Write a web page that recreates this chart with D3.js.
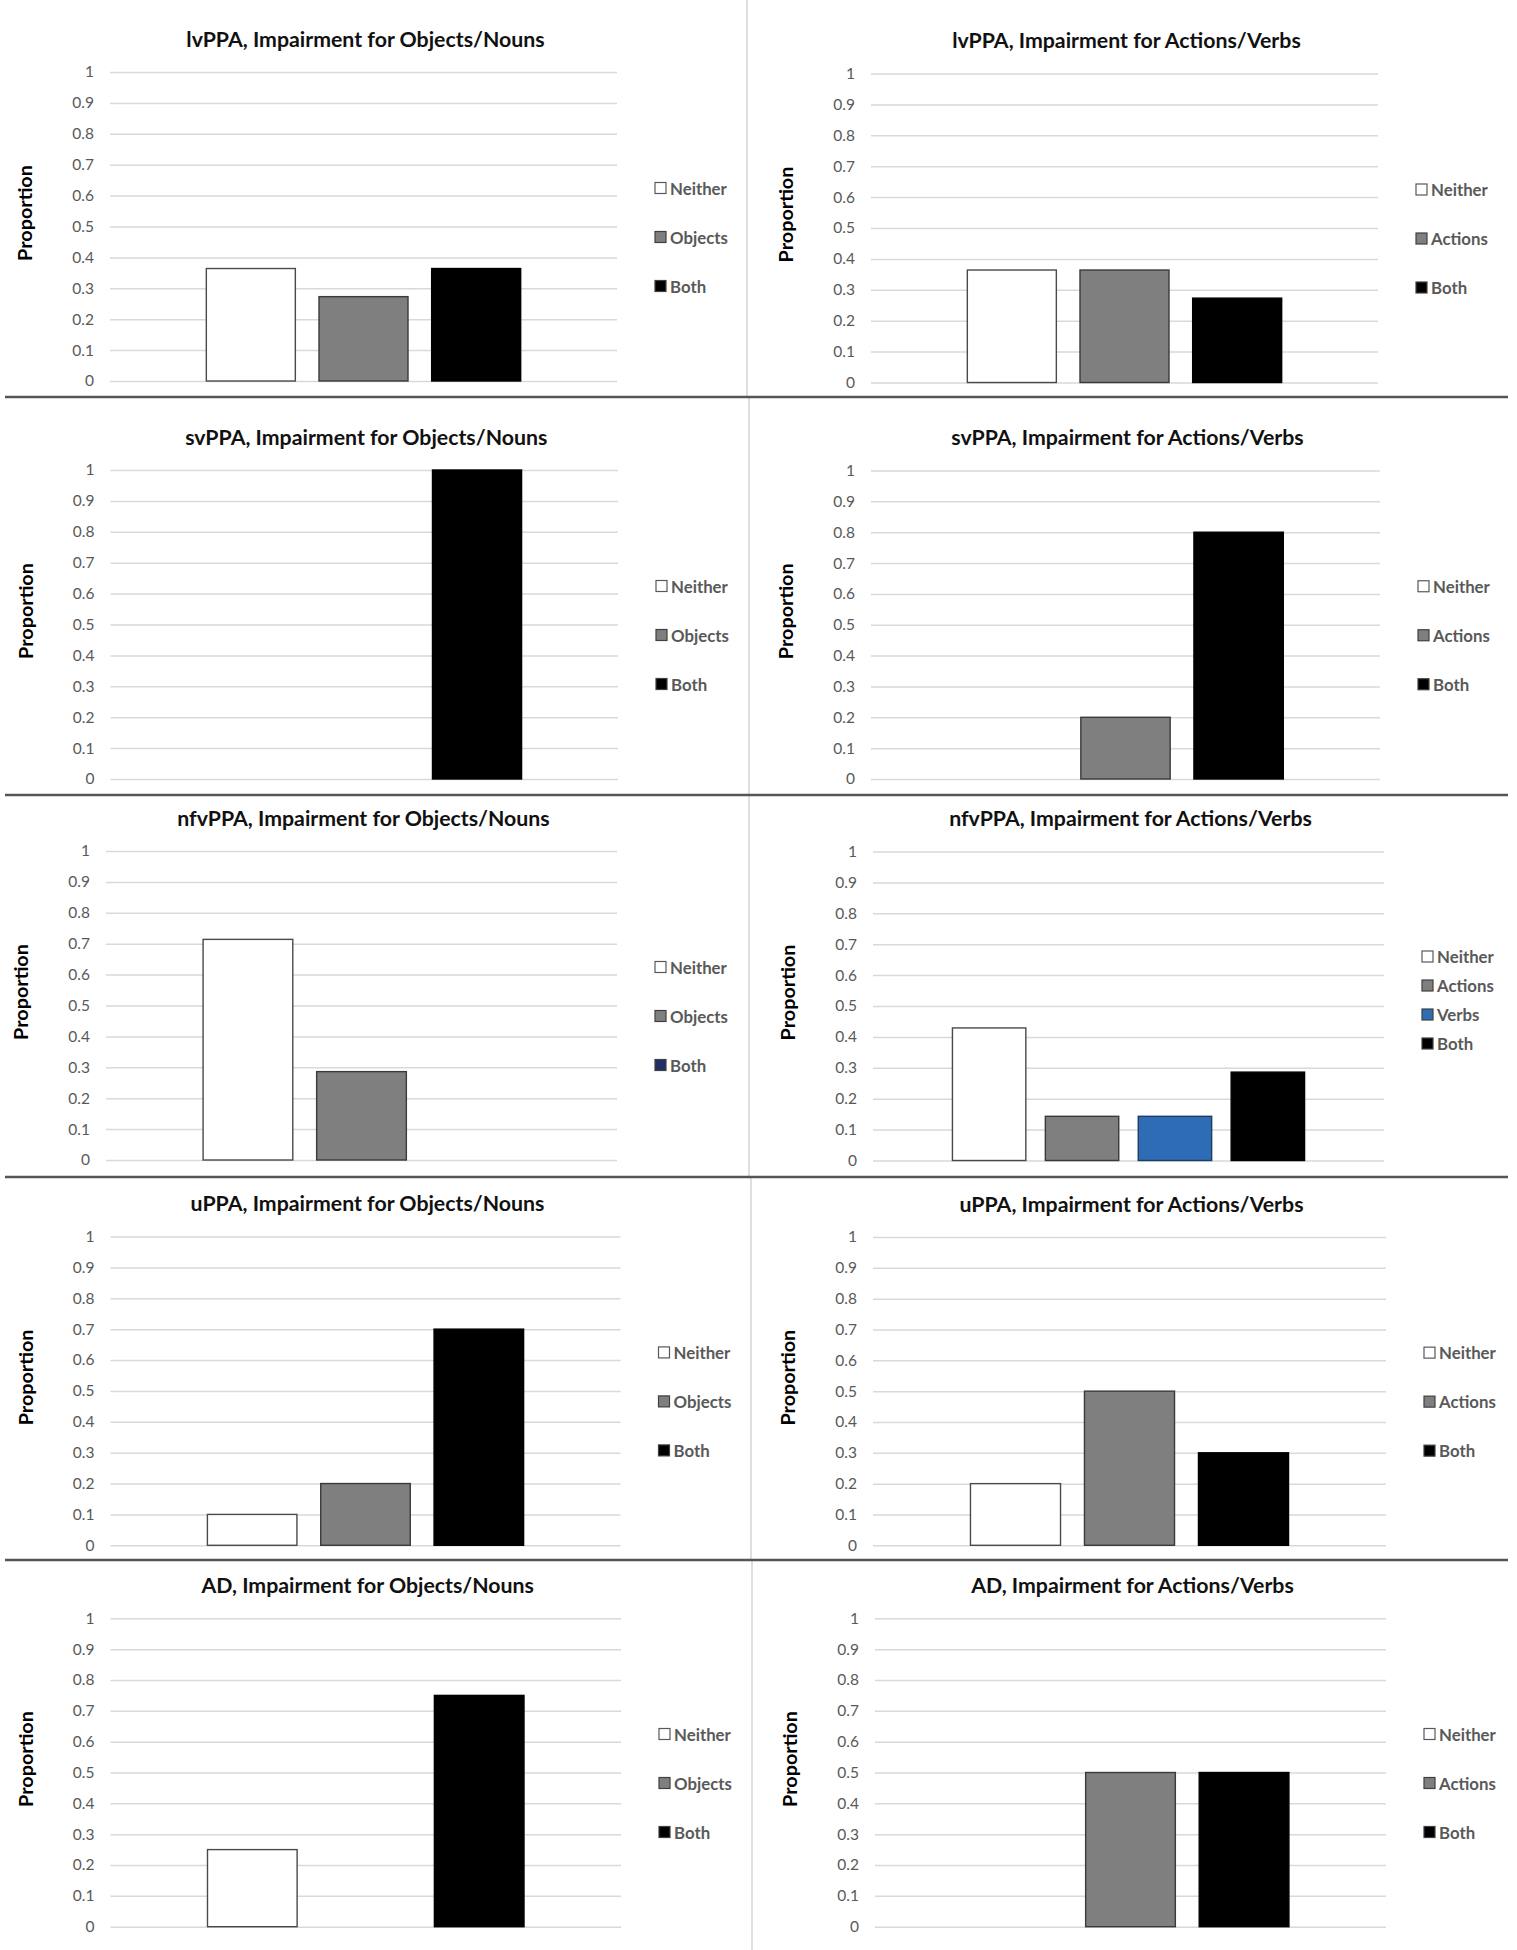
<!DOCTYPE html>
<html>
<head>
<meta charset="utf-8">
<script src="https://cdn.jsdelivr.net/npm/d3@7"></script>
<style>
  html, body { margin: 0; padding: 0; background: #fff; }
  svg { display: block; }
  text { font-family: Lato, "Open Sans", sans-serif; }
</style>
</head>
<body>
<svg id="chart" width="1517" height="1950"></svg>
<script>
// ---------------- DATA ----------------
const titles = [
  "lvPPA, Impairment for Objects/Nouns",
  "lvPPA, Impairment for Actions/Verbs",
  "svPPA, Impairment for Objects/Nouns",
  "svPPA, Impairment for Actions/Verbs",
  "nfvPPA, Impairment for Objects/Nouns",
  "nfvPPA, Impairment for Actions/Verbs",
  "uPPA, Impairment for Objects/Nouns",
  "uPPA, Impairment for Actions/Verbs",
  "AD, Impairment for Objects/Nouns",
  "AD, Impairment for Actions/Verbs"
];
const seriesObjects = ["Neither", "Objects", "Both"];
const seriesActions = ["Neither", "Actions", "Both"];
const seriesActionsVerbs = ["Neither", "Actions", "Verbs", "Both"];
const panelSeries = [
  seriesObjects, seriesActions,
  seriesObjects, seriesActions,
  seriesObjects, seriesActionsVerbs,
  seriesObjects, seriesActions,
  seriesObjects, seriesActions
];
const lvppaObjects  = [0.364, 0.273, 0.364];
const lvppaActions  = [0.364, 0.364, 0.273];
const svppaObjects  = [0, 0, 1.0];
const svppaActions  = [0, 0.2, 0.8];
const nfvppaObjects = [0.714, 0.286, 0];
const nfvppaActions = [0.429, 0.143, 0.143, 0.286];
const uppaObjects   = [0.1, 0.2, 0.7];
const uppaActions   = [0.2, 0.5, 0.3];
const adObjects     = [0.25, 0, 0.75];
const adActions     = [0, 0.5, 0.5];
const panelValues = [
  lvppaObjects, lvppaActions,
  svppaObjects, svppaActions,
  nfvppaObjects, nfvppaActions,
  uppaObjects, uppaActions,
  adObjects, adActions
];
const yTickValues = [0, 0.1, 0.2, 0.3, 0.4, 0.5, 0.6, 0.7, 0.8, 0.9, 1];
const yTickLabels = ["0", "0.1", "0.2", "0.3", "0.4", "0.5", "0.6", "0.7", "0.8", "0.9", "1"];
const yAxisTitle = "Proportion";

// ---------------- STYLE / LAYOUT ----------------
const seriesFill = { Neither: "#ffffff", Objects: "#7f7f7f", Actions: "#7f7f7f", Verbs: "#2e6db5", Both: "#000000" };
const seriesStroke = { Neither: "#4a4a4a", Objects: "#3a3a3a", Actions: "#3a3a3a", Verbs: "#1f3c63", Both: "#000000" };
// nfvPPA Objects legend shows 'Both' in dark navy
const legendOverride = { 4: { Both: "#1f2f63" } };

// plot-area frames [left, right, top(y=1), bottom(y=0)]
const frames = [
  [110, 617, 72, 381],   [871, 1378, 73.5, 382.5],
  [110.5, 618, 470, 779], [871, 1380, 470.5, 779],
  [106, 617, 851, 1160],  [873, 1384, 851.5, 1160.5],
  [110.5, 620.5, 1236.5, 1545.3], [873, 1386, 1237, 1545.3],
  [110.5, 621, 1618.3, 1926.7],   [875, 1386, 1618.3, 1926.7]
];
const hSeparators = [397, 795, 1177, 1560];
const vDividers = [[0, 397, 747], [397, 795, 749], [795, 1177, 749], [1177, 1560, 751], [1560, 1950, 752]];

const svg = d3.select("#chart");
svg.append("rect").attr("width", 1517).attr("height", 1950).attr("fill", "#fff");

// vertical dividers
svg.append("g").selectAll("line").data(vDividers).join("line")
  .attr("x1", d => d[2]).attr("x2", d => d[2])
  .attr("y1", d => d[0]).attr("y2", d => d[1])
  .attr("stroke", "#d4d4d4").attr("stroke-width", 1.5);

// horizontal separators
svg.append("g").selectAll("line").data(hSeparators).join("line")
  .attr("x1", 5).attr("x2", 1508)
  .attr("y1", d => d).attr("y2", d => d)
  .attr("stroke", "#555").attr("stroke-width", 2.5);

titles.forEach((title, i) => {
  const [gx0, gx1, gy1, gy0] = frames[i];
  const names = panelSeries[i];
  const vals = panelValues[i];
  const g = svg.append("g");

  const y = d3.scaleLinear().domain([0, 1]).range([gy0, gy1]);
  const x = d3.scaleBand().domain(names).range([gx0, gx1])
    .paddingInner(0.21).paddingOuter(0.855);

  // gridlines + tick labels
  const axis = d3.axisLeft(y)
    .tickValues(yTickValues)
    .tickFormat((d, k) => yTickLabels[k])
    .tickSize(-(gx1 - gx0))
    .tickPadding(16);
  const ax = g.append("g").attr("transform", `translate(${gx0},0)`).call(axis);
  ax.select(".domain").remove();
  ax.selectAll(".tick line").attr("stroke", "#d9d9d9").attr("stroke-width", 1.5);
  ax.selectAll(".tick text")
    .attr("fill", "#595959")
    .style("font-family", "Lato, sans-serif")
    .style("font-size", "15.5px");

  // title
  g.append("text")
    .attr("x", (gx0 + gx1) / 2 + 2)
    .attr("y", gy1 - 33.5)
    .attr("text-anchor", "middle")
    .attr("dominant-baseline", "central")
    .attr("fill", "#111")
    .style("font-size", "21.3px")
    .style("font-weight", "bold")
    .text(title);

  // y axis title
  const px = gx0 - 86, py = (gy0 + gy1) / 2 - 13.5;
  g.append("text")
    .attr("transform", `translate(${px},${py}) rotate(-90)`)
    .attr("text-anchor", "middle")
    .attr("dominant-baseline", "central")
    .attr("fill", "#000")
    .style("font-size", "19.8px")
    .style("font-weight", "bold")
    .text(yAxisTitle);

  // bars
  const barData = names.map((n, k) => ({ name: n, value: vals[k] })).filter(d => d.value > 0);
  g.append("g").selectAll("rect").data(barData).join("rect")
    .attr("x", d => x(d.name))
    .attr("width", x.bandwidth())
    .attr("y", d => y(d.value))
    .attr("height", d => y(0) - y(d.value))
    .attr("fill", d => seriesFill[d.name])
    .attr("stroke", d => seriesStroke[d.name])
    .attr("stroke-width", 1.4);

  // legend
  const n = names.length;
  const spacing = n === 3 ? 49 : 29;
  const centerOff = n === 3 ? 10.5 : -6;
  const cy = (gy0 + gy1) / 2 + centerOff;
  const lx = gx1 + 38;
  const leg = g.append("g").selectAll("g").data(names).join("g")
    .attr("transform", (d, k) => `translate(${lx},${cy + (k - (n - 1) / 2) * spacing})`);
  leg.append("rect")
    .attr("x", 0).attr("y", -5.5).attr("width", 11).attr("height", 11)
    .attr("fill", d => (legendOverride[i] && legendOverride[i][d]) || seriesFill[d])
    .attr("stroke", d => d === "Neither" ? "#595959" : "#404040")
    .attr("stroke-width", 1.2);
  leg.append("text")
    .attr("x", 15).attr("y", 0)
    .attr("dominant-baseline", "central")
    .attr("fill", "#595959")
    .style("font-size", "16.8px")
    .style("font-weight", "bold")
    .text(d => d);
});
</script>
</body>
</html>
